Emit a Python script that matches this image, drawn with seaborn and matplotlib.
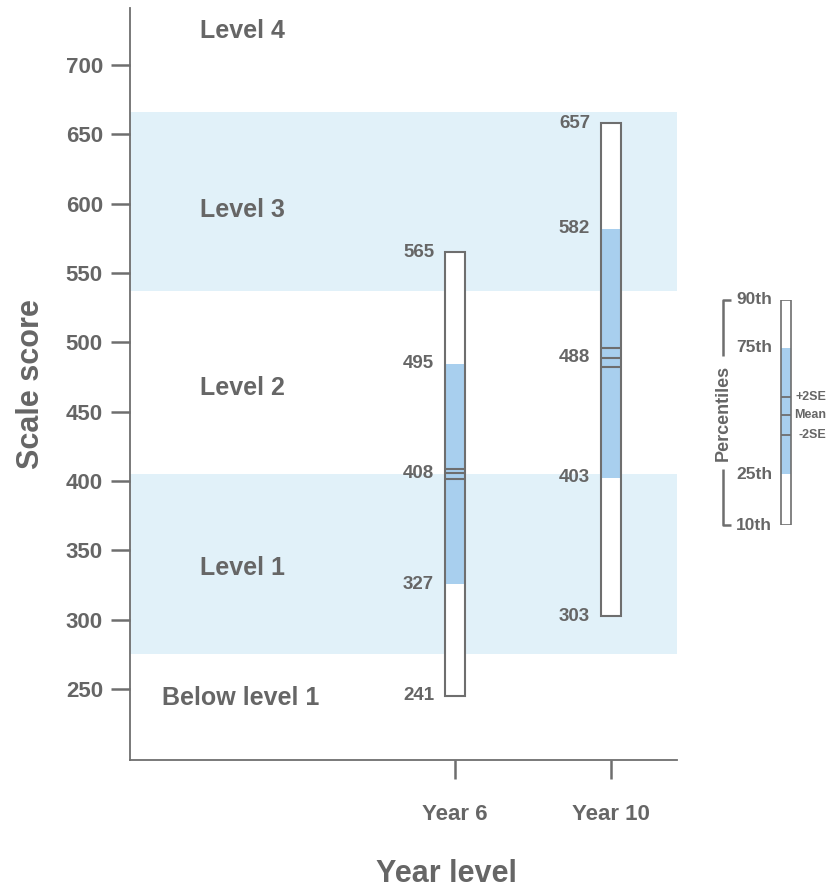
import numpy as np
import seaborn as sns
import matplotlib.pyplot as plt

# Data
years = ["Year 6", "Year 10"]
p10 = [245, 302.5]
p25 = [325.5, 402.5]
se_lo = [401.5, 482]
mean = [405.5, 489]
se_hi = [409, 496]
p75 = [484.5, 582]
p90 = [565, 658]

# printed labels next to each box
lab_p10 = ["241", "303"]
lab_p25 = ["327", "403"]
lab_mean = ["408", "488"]
lab_p75 = ["495", "582"]
lab_p90 = ["565", "657"]

# proficiency bands
band_cuts = [275, 405, 537, 666]
level_names = ["Below level 1", "Level 1", "Level 2", "Level 3", "Level 4"]
level_label_y = [243.5, 337.5, 467, 595.5, 724.5]
level_label_x = [-1.88, -1.635, -1.635, -1.635, -1.635]

# legend key (percentile scale)
key_p = {"10th": 10, "25th": 28, "75th": 73, "90th": 90}
key_se = {"+2SE": 55.5, "Mean": 49, "-2SE": 42}

# Style
sns.set_theme(style="white")
plt.rcParams["font.family"] = ["Liberation Sans", "DejaVu Sans"]
plt.rcParams["font.weight"] = "bold"

GREY = "#666666"
EDGE = "#6e6e6e"
BAND = "#e1f1f9"
BLUE = "#a8cfee"

fig = plt.figure(figsize=(8.38, 8.89), dpi=100)
ax = fig.add_axes([130 / 838, 1 - 760 / 889, 547 / 838, 752 / 889])

# bands
ax.axhspan(band_cuts[0], band_cuts[1], color=BAND, lw=0, zorder=0)
ax.axhspan(band_cuts[2], band_cuts[3], color=BAND, lw=0, zorder=0)

x = np.arange(len(years))
w = 0.125
lo = np.array(p10)
hi = np.array(p90)
ax.bar(x, hi - lo, bottom=lo, width=w, color="white", lw=0, zorder=2)
ax.bar(x, np.array(p75) - np.array(p25), bottom=p25, width=w, color=BLUE, lw=0, zorder=3)
ax.bar(x, hi - lo, bottom=lo, width=w, fill=False, edgecolor=EDGE, lw=1.5, zorder=4)
for vals in (se_lo, mean, se_hi):
    ax.hlines(vals, x - w / 2, x + w / 2, color=EDGE, lw=1.5, zorder=4)

for vals, labs in ((p10, lab_p10), (p25, lab_p25), (mean, lab_mean),
                   (p75, lab_p75), (p90, lab_p90)):
    for xi, v, t in zip(x, vals, labs):
        ax.annotate(t, (xi - w / 2, v), xytext=(-8, 0), textcoords="offset points",
                    ha="right", va="center", fontsize=13.5, color=GREY,
                    fontweight="bold", zorder=5)

for name, lx, ly in zip(level_names, level_label_x, level_label_y):
    ax.text(lx, ly, name, ha="left", va="center", fontsize=18, color=GREY,
            fontweight="bold")

ax.set_xlim(-2.083, 1.423)
ax.set_ylim(198.8, 741.1)
ax.set_xticks(x)
ax.set_xticklabels(years)
ax.set_yticks(np.arange(250, 701, 50))
ax.tick_params(axis="both", direction="out", length=14, width=1.8, color=EDGE,
               labelcolor=GREY, labelsize=16, bottom=True, left=True)
ax.tick_params(axis="y", pad=5.5)
ax.tick_params(axis="x", pad=17.5)
for lab in ax.get_xticklabels() + ax.get_yticklabels():
    lab.set_fontweight("bold")
for s in ("top", "right"):
    ax.spines[s].set_visible(False)
for s in ("left", "bottom"):
    ax.spines[s].set_color(EDGE)
    ax.spines[s].set_linewidth(1.3)
ax.set_ylabel("Scale score", fontsize=22, color=GREY, fontweight="bold", labelpad=14)
ax.set_xlabel("Year level", fontsize=22, color=GREY, fontweight="bold", labelpad=25,
              x=0.578)

# Legend key
kx = fig.add_axes([700 / 838, 1 - 525 / 889, 138 / 838, 225 / 889])
kx.set_xlim(0, 138)
kx.set_ylim(10, 90)
kx.axis("off")
kx.bar(86, 80, bottom=10, width=10, color="white", lw=0)
kx.bar(86, key_p["75th"] - key_p["25th"], bottom=key_p["25th"], width=10, color=BLUE, lw=0)
kx.bar(86, 80, bottom=10, width=10, fill=False, edgecolor=EDGE, lw=1.2)
kx.hlines(list(key_se.values()), 81, 91, color=EDGE, lw=1.3)
for name, v in key_p.items():
    kx.text(36, v, name, ha="left", va="center", fontsize=12.5, color=GREY,
            fontweight="bold", clip_on=False)
for name, v in key_se.items():
    kx.text(126, v, name, ha="right", va="center", fontsize=9, color=GREY,
            fontweight="bold", clip_on=False)
kx.plot([31, 23, 23], [90, 90, 70], color=EDGE, lw=1.8, clip_on=False, solid_capstyle="butt")
kx.plot([23, 23, 31], [30, 10, 10], color=EDGE, lw=1.8, clip_on=False, solid_capstyle="butt")
kx.text(23, 50, "Percentiles", rotation=90, ha="center", va="center", fontsize=13,
        color=GREY, fontweight="bold", backgroundcolor="white", clip_on=False)

fig.savefig("out.png", dpi=100)
